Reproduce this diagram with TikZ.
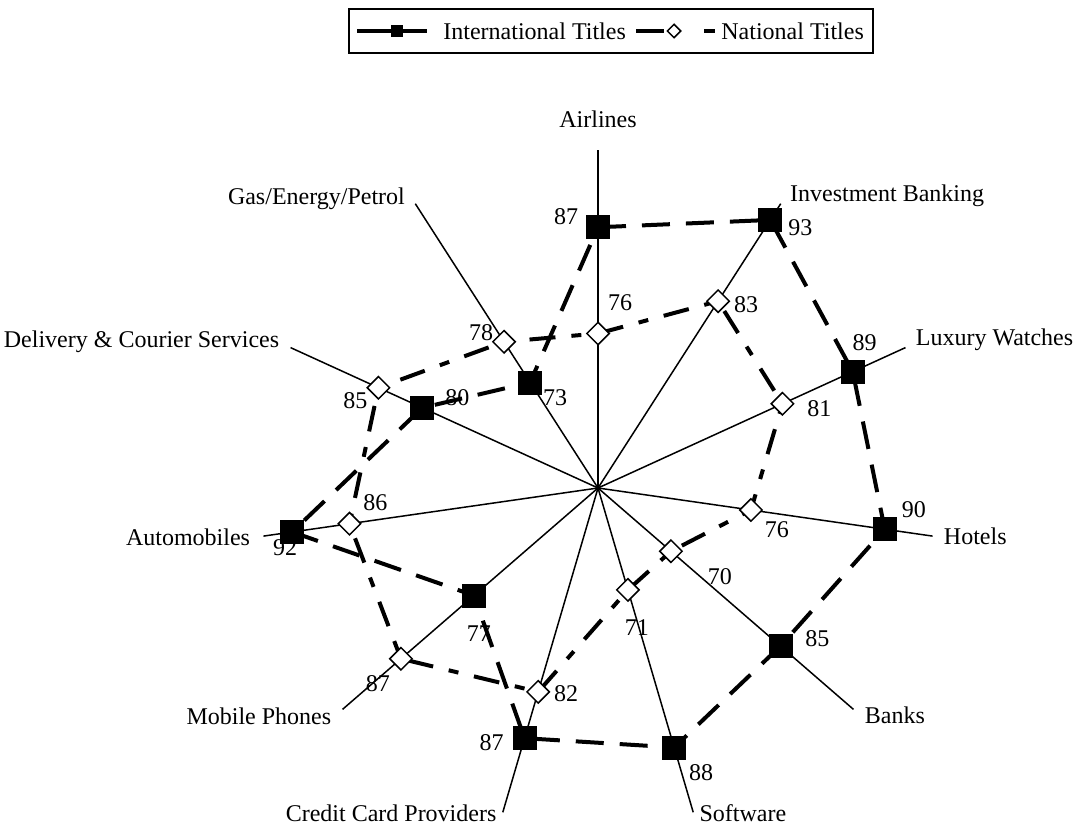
\documentclass[tikz,border=0pt]{standalone}
\usepackage{fontspec}
\setmainfont{Liberation Serif}
\usetikzlibrary{shapes.geometric}

\begin{document}
\begin{tikzpicture}[x=0.5pt,y=0.5pt,font=\fontsize{12}{14}\selectfont,
	spoke/.style={line width=0.75pt},
	intline/.style={line width=2pt,dash pattern=on 14pt off 8pt},
	natline/.style={line width=2pt,dash pattern=on 13pt off 8pt on 5pt off 8pt},
	intmark/.style={draw,fill=black,rectangle,minimum size=11.5pt,inner sep=0pt},
	natmark/.style={draw,fill=white,diamond,minimum size=11.5pt,inner sep=0pt,line width=0.75pt},
	val/.style={inner sep=0pt}]
\useasboundingbox (0,0) rectangle (1074,827);
\def\K{9.657}
\def\A{32.7273}
\coordinate (o) at (598,339);
\foreach \i in {0,...,10} {
	\pgfmathsetmacro{\ang}{90-\i*\A}
	\coordinate (e\i) at ([shift={(\ang:338)}]o);
	\draw[spoke] (o) -- (e\i);
}
\foreach \vi/\vn [count=\i from 0] in {87/76,93/83,89/81,90/76,85/70,88/71,87/82,77/87,92/86,80/85,73/78} {
	\pgfmathsetmacro{\ang}{90-\i*\A}
	\pgfmathsetmacro{\ri}{\K*(\vi-60)}
	\pgfmathsetmacro{\rn}{\K*(\vn-60)}
	\coordinate (pi\i) at ([shift={(\ang:\ri)}]o);
	\coordinate (pn\i) at ([shift={(\ang:\rn)}]o);
}
\draw[natline] (pn0) \foreach \i in {1,...,10} { -- (pn\i) } -- cycle;
\draw[intline] (pi0) \foreach \i in {1,...,10} { -- (pi\i) } -- cycle;
\foreach \i/\v/\dx/\dy in {0/87/-32/11,1/93/30/-8,2/89/12/29,3/90/29/20,4/85/37/7,5/88/27/-25,6/87/-33/-4,7/77/5/-38,8/92/-7/-16,9/80/35/10,10/73/25/-15} {
	\node[intmark] (i\i) at (pi\i) {};
	\node[val] (vi\i) at ([shift={(\dx,\dy)}]pi\i) {\v};
}
\foreach \i/\v/\dx/\dy in {0/76/22/31,1/83/28/-3,2/81/37/-5,3/76/26/-20,4/70/49/-25,5/71/9/-38,6/82/28/-2,7/87/-23/-25,8/86/26/21,9/85/-23/-13,10/78/-23/9} {
	\node[natmark] (n\i) at (pn\i) {};
	\node[val] (vn\i) at ([shift={(\dx,\dy)}]pn\i) {\v};
}
\foreach \i/\nm/\anc/\dx/\dy in {0/Airlines/center/0/31,1/Investment Banking/west/9/8,2/Luxury Watches/west/10/8,3/Hotels/west/11/0,4/Banks/west/11/-6,5/Software/west/6/-1,6/Credit Card Providers/east/-6/-1,7/Mobile Phones/east/-11/-7,8/Automobiles/east/-13/-1,9/Delivery \& Courier Services/east/-11/6,10/{Gas/Energy/Petrol}/east/-10/5} {
	\node[val,anchor=\anc] (c\i) at ([shift={(\dx,\dy)}]e\i) {\nm};
}
\node[draw,line width=1pt,minimum width=262pt,minimum height=22pt] (legend) at (611,796) {};
\coordinate (la) at (357,796);
\coordinate (lb) at (427,796);
\coordinate (lc) at (636,796);
\coordinate (ld) at (664,796);
\coordinate (le) at (704,796);
\coordinate (lf) at (715,796);
\draw[line width=2pt] (la) -- (lb);
\node[intmark,minimum size=5.5pt] (li) at (397,796) {};
\node[val,anchor=west] (lti) at (443,796) {International Titles};
\draw[line width=2pt] (lc) -- (ld);
\draw[line width=2pt] (le) -- (lf);
\node[natmark,minimum size=7pt] (ln) at (674,796) {};
\node[val,anchor=west] (ltn) at (721,796) {National Titles};
\end{tikzpicture}
\end{document}
